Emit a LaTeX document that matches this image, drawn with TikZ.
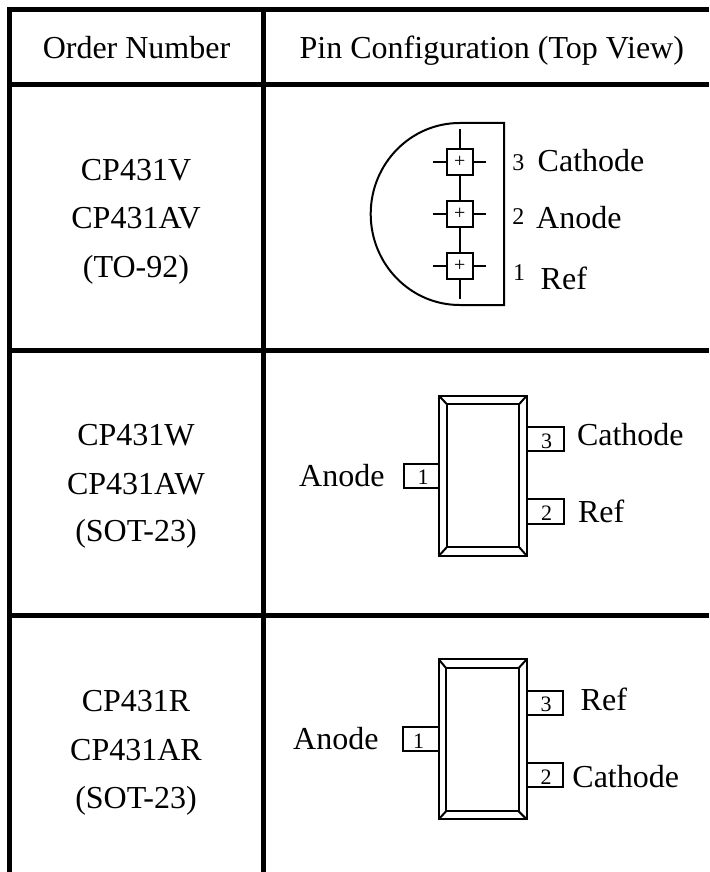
\documentclass[tikz,border=0pt]{standalone}
\usepackage{fontspec}
\setmainfont{Liberation Serif}
\newcommand{\bigfs}{\fontsize{32}{36}\selectfont}
\newcommand{\smallfs}{\fontsize{22}{24}\selectfont}
\newcommand{\midfs}{\fontsize{24}{26}\selectfont}
\newcommand{\plusfs}{\fontsize{20}{22}\selectfont}
\tikzset{
  grid line/.style={line width=5pt,black},
  outline/.style={line width=2pt,black,line cap=butt,line join=miter},
  bigtext/.style={inner sep=0pt,font=\bigfs,text=black},
  lefttext/.style={bigtext,anchor=base west},
  midtext/.style={bigtext,anchor=base},
  pinnum/.style={inner sep=0pt,font=\smallfs,anchor=base,text=black},
  pinnumlarge/.style={pinnum,font=\midfs},
  plusmark/.style={inner sep=0pt,font=\plusfs,anchor=center,text=black},
  cellbox/.style={draw=black,line width=2pt,fill=white,minimum width=25.6pt,minimum height=26pt,inner sep=0pt},
}
\newcommand{\soticbody}[8]{%
  \draw[outline] (#1,#2) rectangle (#3,#4);
  \draw[outline] (#5,#6) rectangle (#7,#8);
  \draw[outline] (#1,#2) -- (#5,#6);
  \draw[outline] (#3,#2) -- (#7,#6);
  \draw[outline] (#1,#4) -- (#5,#8);
  \draw[outline] (#3,#4) -- (#7,#8);
}
\begin{document}
\begin{tikzpicture}[x=1pt,y=-1pt]
\useasboundingbox (0,0) rectangle (709,872);
\fill[white] (0,0) rectangle (709,872);
% table grid
\draw[grid line] (7,9.5) -- (709,9.5);
\draw[grid line] (7,84.5) -- (709,84.5);
\draw[grid line] (7,350.3) -- (709,350.3);
\draw[grid line] (7,615.3) -- (709,615.3);
\draw[grid line] (9.5,7) -- (9.5,872);
\draw[grid line] (263.5,7) -- (263.5,872);
% header
\node[midtext] (hOrder) at (136.5,58.3) {Order Number};
\node[lefttext] (hPin) at (299.5,58.3) {Pin Configuration (Top View)};
% left column
\node[midtext] (a1) at (136,180.7) {CP431V};
\node[midtext] (a2) at (136,228.7) {CP431AV};
\node[midtext] (a3) at (136,277.3) {(TO-92)};
\node[midtext] (b1) at (136,445.7) {CP431W};
\node[midtext] (b2) at (136,494.3) {CP431AW};
\node[midtext] (b3) at (136,541.7) {(SOT-23)};
\node[midtext] (c1) at (136,711) {CP431R};
\node[midtext] (c2) at (136,760.7) {CP431AR};
\node[midtext] (c3) at (136,808.3) {(SOT-23)};
% TO-92
\draw[outline] (459.7,123) arc[start angle=90,end angle=270,x radius=89,y radius=-91] -- (504,305) -- (504,123) -- cycle;
\draw[outline] (459.7,129) -- (459.7,299);
\foreach \n/\yy in {p3/162,p2/214,p1/266}{
  \draw[outline] (433.3,\yy) -- (485.7,\yy);
  \node[cellbox] (\n) at (459.7,\yy) {};
  \node[plusmark] at (\n.center) {+};
}
\node[pinnumlarge] (n3) at (518.3,170) {3};
\node[pinnumlarge] (n2) at (518.3,224) {2};
\node[pinnumlarge] (n1) at (519,280) {1};
\node[lefttext] (t3) at (537.5,171.7) {Cathode};
\node[lefttext] (t2) at (536,228) {Anode};
\node[lefttext] (t1) at (540.5,289) {Ref};
% SOT-23 W
\soticbody{439}{395.7}{526.7}{555.7}{446.7}{404}{519.3}{547.3}
\draw[outline] (439,464) -- (403.7,464) -- (403.7,488) -- (439,488);
\draw[outline] (526.7,427.3) -- (564,427.3) -- (564,451.3) -- (526.7,451.3);
\draw[outline] (526.7,499.3) -- (564,499.3) -- (564,523.7) -- (526.7,523.7);
\node[pinnum] at (423,484) {1};
\node[pinnum] at (546.7,448) {3};
\node[pinnum] at (546.7,520.7) {2};
\node[lefttext] at (299,486.7) {Anode};
\node[lefttext] at (576.8,445.7) {Cathode};
\node[lefttext] at (577.8,522) {Ref};
% SOT-23 R
\soticbody{438.7}{659.3}{526.7}{819.3}{446}{668}{518.7}{811.3}
\draw[outline] (438.7,727) -- (403,727) -- (403,751.3) -- (438.7,751.3);
\draw[outline] (526.7,691) -- (563.3,691) -- (563.3,715.3) -- (526.7,715.3);
\draw[outline] (526.7,763) -- (563.3,763) -- (563.3,787.3) -- (526.7,787.3);
\node[pinnum] at (418.7,748) {1};
\node[pinnum] at (546,711.7) {3};
\node[pinnum] at (546,784.3) {2};
\node[lefttext] at (293,749.3) {Anode};
\node[lefttext] at (580.5,710.7) {Ref};
\node[lefttext] at (572.2,787.7) {Cathode};
\end{tikzpicture}
\end{document}
